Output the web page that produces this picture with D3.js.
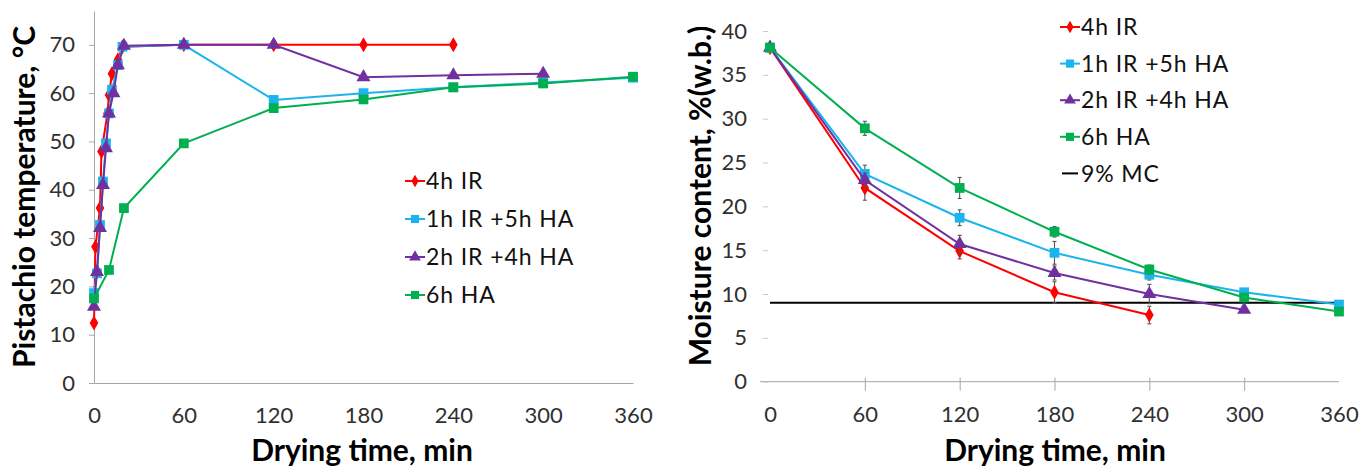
<!DOCTYPE html>
<html>
<head>
<meta charset="utf-8">
<script src="https://cdn.jsdelivr.net/npm/d3@7"></script>
<style>
  html, body { margin: 0; padding: 0; background: #fff; }
  svg { display: block; }
  text { font-family: Lato, "Open Sans", sans-serif; }
</style>
</head>
<body>
<svg id="chart" width="1369" height="470"></svg>
<script>
// ---- Temperature data (left panel) ----
const seriesNames = ["4h IR", "1h IR +5h HA", "2h IR +4h HA", "6h HA"];
const seriesColors = ["#ff0000", "#1cb4ee", "#7030a0", "#00b050"];

const tempTimeIR4 = [0, 1, 4, 5, 9, 10, 12, 16, 19, 60, 120, 180, 240];
const tempIR4     = [12.4, 28.2, 36.2, 47.9, 55.8, 59.6, 64.0, 66.9, 69.6, 70, 70, 70, 70];

const tempTimeIR1 = [0, 2, 4, 6, 8, 10, 12, 16, 19, 60, 120, 180, 240, 300, 360];
const tempIR1     = [18.6, 22.7, 32.7, 41.7, 49.6, 55.8, 60.7, 65.8, 69.6, 70, 58.6, 60.0, 61.2, 62.2, 63.2];

const tempTimeIR2 = [0, 2, 4, 6, 8, 10, 13, 16, 20, 60, 120, 180, 240, 300];
const tempIR2     = [15.8, 23.0, 32.1, 41.0, 48.6, 55.8, 60.0, 65.8, 69.8, 70, 70, 63.3, 63.7, 64.0];

const tempTimeHA6 = [0, 10, 20, 60, 120, 180, 240, 300, 360];
const tempHA6     = [17.5, 23.4, 36.2, 49.6, 56.9, 58.7, 61.2, 62.0, 63.4];

// ---- Moisture content data (right panel) ----
const mcTimeIR4 = [0, 60, 120, 180, 240];
const mcIR4     = [38.1, 22.1, 14.9, 10.2, 7.6];
const mcErrIR4  = [0, 1.4, 0.9, 1.2, 1.0];

const mcTimeIR1 = [0, 60, 120, 180, 240, 300, 360];
const mcIR1     = [38.1, 23.7, 18.7, 14.7, 12.2, 10.2, 8.8];
const mcErrIR1  = [0, 1.0, 0.9, 1.3, 0.6, 0.4, 0.3];

const mcTimeIR2 = [0, 60, 120, 180, 240, 300];
const mcIR2     = [38.1, 23.0, 15.7, 12.4, 10.0, 8.2];
const mcErrIR2  = [0, 0.8, 1.0, 0.8, 1.1, 0.3];

const mcTimeHA6 = [0, 60, 120, 180, 240, 300, 360];
const mcHA6     = [38.1, 28.9, 22.1, 17.1, 12.8, 9.6, 8.0];
const mcErrHA6  = [0, 0.8, 1.2, 0.6, 0.5, 0.4, 0.3];

const mcTarget = 9;
const mcTargetLabel = "9% MC";

const timeTicks = [0, 60, 120, 180, 240, 300, 360];
const tempTicks = [0, 10, 20, 30, 40, 50, 60, 70];
const mcTicks   = [0, 5, 10, 15, 20, 25, 30, 35, 40];

const xTitle = "Drying time, min";
const yTitleTemp = "Pistachio temperature, °C";
const yTitleMC = "Moisture content, %(w.b.)";

const markerTypes = [d3.symbolDiamond, d3.symbolSquare, d3.symbolTriangle, d3.symbolSquare];
const markerSizes = [65, 95, 85, 95];

const svg = d3.select("#chart");
const axisGrey = "#a6a6a6";
const tickText = "#303030";
const titleSize = 30;
const legendFont = "'Open Sans', Lato, sans-serif";
const legendSize = 23;

function markerPath(i) {
  return d3.symbol().type(markerTypes[i]).size(markerSizes[i])();
}

function drawSeries(g, x, y, times, vals, i, errs) {
  const pts = times.map((t, k) => ({ t, v: vals[k], e: errs ? errs[k] : 0 }));
  if (errs) {
    const eb = g.append("g").selectAll("g").data(pts.filter(p => p.e > 0)).join("g")
      .attr("stroke", "#555").attr("stroke-width", 1.1);
    eb.append("line")
      .attr("x1", p => x(p.t)).attr("x2", p => x(p.t))
      .attr("y1", p => y(p.v - p.e)).attr("y2", p => y(p.v + p.e));
    eb.append("line")
      .attr("x1", p => x(p.t) - 2).attr("x2", p => x(p.t) + 2)
      .attr("y1", p => y(p.v + p.e)).attr("y2", p => y(p.v + p.e));
    eb.append("line")
      .attr("x1", p => x(p.t) - 2).attr("x2", p => x(p.t) + 2)
      .attr("y1", p => y(p.v - p.e)).attr("y2", p => y(p.v - p.e));
  }
  g.append("path").datum(pts)
    .attr("fill", "none").attr("stroke", seriesColors[i]).attr("stroke-width", 2)
    .attr("d", d3.line().x(p => x(p.t)).y(p => y(p.v)));
  g.append("g").selectAll("path").data(pts).join("path")
    .attr("d", markerPath(i))
    .attr("transform", p => `translate(${x(p.t)},${y(p.v)})`)
    .attr("fill", seriesColors[i]);
}

function drawLegend(g, x0, y0, dy, names, withTarget) {
  names.forEach((n, i) => {
    const row = g.append("g").attr("transform", `translate(${x0},${y0 + i * dy})`);
    row.append("line").attr("x1", 0).attr("x2", 20).attr("y1", 0).attr("y2", 0)
      .attr("stroke", seriesColors[i]).attr("stroke-width", 2);
    row.append("path").attr("d", d3.symbol().type(markerTypes[i]).size(markerSizes[i] * 0.7)())
      .attr("transform", "translate(10,0)")
      .attr("fill", seriesColors[i]);
    row.append("text").attr("x", 21).attr("y", 0).attr("dy", "0.36em")
      .attr("font-family", legendFont).attr("letter-spacing", "0.9px")
      .attr("font-size", legendSize).attr("fill", "#111").text(n);
  });
  if (withTarget) {
    const row = g.append("g").attr("transform", `translate(${x0},${y0 + names.length * dy})`);
    row.append("line").attr("x1", 2).attr("x2", 18).attr("y1", 0).attr("y2", 0)
      .attr("stroke", "#000").attr("stroke-width", 2);
    row.append("text").attr("x", 21).attr("y", 0).attr("dy", "0.36em")
      .attr("font-family", legendFont).attr("letter-spacing", "0.9px")
      .attr("font-size", legendSize).attr("fill", "#111").text(withTarget);
  }
}

function styleAxis(ax, showDomain) {
  ax.selectAll(".tick line").attr("stroke", axisGrey);
  ax.selectAll(".tick text").attr("fill", tickText).attr("font-size", 22)
    .attr("font-family", "Lato, 'Open Sans', sans-serif");
  ax.select(".domain").attr("stroke", showDomain ? axisGrey : "none");
}

// ================= Left panel: temperature =================
const xL = d3.scaleLinear().domain([0, 360]).range([94, 633]);
const yL = d3.scaleLinear().domain([0, 77]).range([383, 11]);
const gL = svg.append("g");

const axLX = gL.append("g").attr("transform", `translate(0,${yL(0)})`)
  .call(d3.axisBottom(xL).tickValues(timeTicks).tickSize(0).tickPadding(24).tickSizeOuter(0));
styleAxis(axLX, true);

const axLY = gL.append("g").attr("transform", `translate(${xL(0)},0)`)
  .call(d3.axisLeft(yL).tickValues(tempTicks).tickSize(5).tickPadding(14).tickSizeOuter(0));
styleAxis(axLY, true);

drawSeries(gL, xL, yL, tempTimeIR4, tempIR4, 0);
drawSeries(gL, xL, yL, tempTimeIR1, tempIR1, 1);
drawSeries(gL, xL, yL, tempTimeIR2, tempIR2, 2);
drawSeries(gL, xL, yL, tempTimeHA6, tempHA6, 3);

drawLegend(gL, 405, 181, 38, seriesNames, null);

gL.append("text").attr("x", 362).attr("y", 461).attr("text-anchor", "middle")
  .attr("font-size", titleSize).attr("font-weight", 700).attr("fill", "#000").text(xTitle);
gL.append("text").attr("transform", "translate(35,197) rotate(-90)").attr("text-anchor", "middle")
  .attr("font-size", titleSize).attr("font-weight", 700).attr("fill", "#000").text(yTitleTemp);

// ================= Right panel: moisture content =================
const xR = d3.scaleLinear().domain([0, 360]).range([770, 1339]);
const yR = d3.scaleLinear().domain([0, 40]).range([381.7, 31]);
const gR = svg.append("g");

// horizontal axis line starts slightly left of t = 0
gR.append("line").attr("x1", xR(-6.3)).attr("x2", xR(360))
  .attr("y1", yR(0)).attr("y2", yR(0)).attr("stroke", axisGrey).attr("stroke-width", 1);
const axRX = gR.append("g").attr("transform", `translate(0,${yR(0)})`)
  .call(d3.axisBottom(xR).tickValues(timeTicks.slice(1, -1)).tickSize(9).tickPadding(16).tickSizeOuter(0));
styleAxis(axRX, false);
axRX.selectAll(".tick line").attr("y1", -4).attr("y2", 9);
gR.append("g").attr("transform", `translate(0,${yR(0)})`)
  .call(d3.axisBottom(xR).tickValues([0, 360]).tickSize(0).tickPadding(25).tickSizeOuter(0))
  .call(ax => styleAxis(ax, false));

const axRY = gR.append("g").attr("transform", `translate(${xR(-6.3) + 8},0)`)
  .call(d3.axisLeft(yR).tickValues(mcTicks).tickSize(5).tickPadding(16).tickSizeOuter(0));
styleAxis(axRY, false);
axRY.selectAll(".tick line").attr("stroke", "#c8c8c8");

// target moisture line
gR.append("line").attr("x1", xR(0)).attr("x2", xR(360))
  .attr("y1", yR(mcTarget)).attr("y2", yR(mcTarget))
  .attr("stroke", "#000").attr("stroke-width", 2);

drawSeries(gR, xR, yR, mcTimeIR4, mcIR4, 0, mcErrIR4);
drawSeries(gR, xR, yR, mcTimeIR1, mcIR1, 1, mcErrIR1);
drawSeries(gR, xR, yR, mcTimeIR2, mcIR2, 2, mcErrIR2);
drawSeries(gR, xR, yR, mcTimeHA6, mcHA6, 3, mcErrHA6);

drawLegend(gR, 1060, 27, 36.6, seriesNames, mcTargetLabel);

gR.append("text").attr("x", 1055).attr("y", 461).attr("text-anchor", "middle")
  .attr("font-size", titleSize).attr("font-weight", 700).attr("fill", "#000").text(xTitle);
gR.append("text").attr("transform", "translate(711,196) rotate(-90)").attr("text-anchor", "middle")
  .attr("font-size", titleSize).attr("font-weight", 700).attr("fill", "#000").text(yTitleMC);
</script>
</body>
</html>
